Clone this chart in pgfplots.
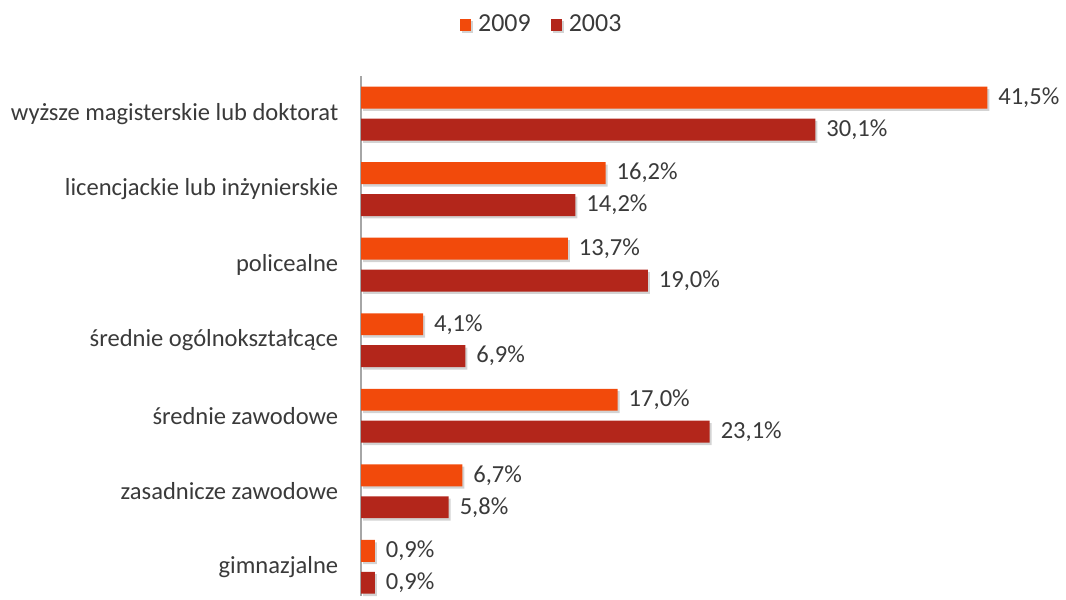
\documentclass[border=0pt]{standalone}
\usepackage{fontspec}
\setmainfont{Carlito}
\usepackage{pgfplots}
\pgfplotsset{compat=1.18}
\usetikzlibrary{calc,shadows}

\definecolor{c2009}{HTML}{F24A0B}
\definecolor{c2003}{HTML}{B3261B}
\definecolor{txt}{HTML}{3A3A3A}

\begin{document}
\begin{tikzpicture}[font=\fontsize{12.3}{14}\selectfont]
\begin{axis}[name=ax,
  xbar, scale only axis,
  width=319pt, height=260.4pt,
  xmin=0, xmax=42.2,
  ymin=-0.38, ymax=6.5,
  axis x line=none,
  axis y line*=left,
  y axis line style={draw=black!35, line width=0.8pt},
  ytick={0,...,6},
  major tick length=0pt,
  yticklabels={gimnazjalne,zasadnicze zawodowe,średnie zawodowe,średnie ogólnokształcące,policealne,licencjackie lub inżynierskie,wyższe magisterskie lub doktorat},
  yticklabel style={text=txt, xshift=-8pt},
  bar width=11pt,
  clip=false,
  /pgf/number format/.cd, use comma, fixed, fixed zerofill, precision=1, assume math mode=true,
  /pgfplots/.cd,
  nodes near coords={\pgfmathprintnumber{\pgfplotspointmeta}\%},
  every node near coord/.append style={text=txt, xshift=2pt},
  every axis plot/.append style={draw=none, drop shadow={shadow xshift=1pt, shadow yshift=-1.2pt, opacity=0.35}},
  legend columns=2,
  legend style={draw=none, fill=none, at={(axis description cs:0.285,1.098)}, anchor=center, text=txt,
    font=\fontsize{13}{15}\selectfont,
    /tikz/every odd column/.append style={column sep=1.5pt},
    /tikz/every even column/.append style={column sep=8pt}},
  legend image code/.code={\fill[#1] (0pt,-2.9pt) rectangle (5.6pt,2.9pt);},
]
\addplot[fill=c2009, bar shift=8pt] coordinates {(0.9,0) (6.7,1) (17.0,2) (4.1,3) (13.7,4) (16.2,5) (41.5,6)};
\addplot[fill=c2003, bar shift=-8pt] coordinates {(0.9,0) (5.8,1) (23.1,2) (6.9,3) (19.0,4) (14.2,5) (30.1,6)};
\legend{2009,2003}
\end{axis}
\path ($(ax.south west)+(-181pt,0pt)$) rectangle ($(ax.north east)+(33pt,38pt)$);
\end{tikzpicture}
\end{document}
